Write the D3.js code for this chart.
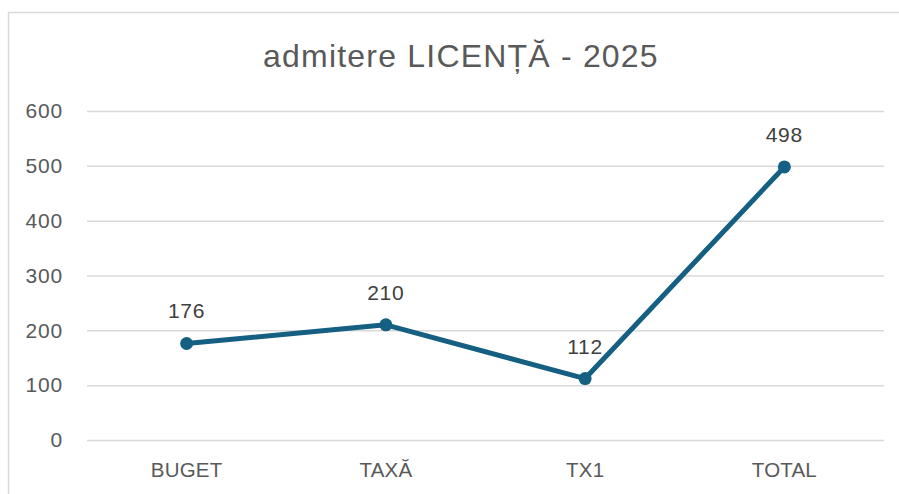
<!DOCTYPE html>
<html>
<head>
<meta charset="utf-8">
<script src="https://cdn.jsdelivr.net/npm/d3@7"></script>
<style>
  body { margin: 0; background: #fff; }
  svg text { font-family: "Liberation Sans", Arial, sans-serif; }
</style>
</head>
<body>
<div id="chart"></div>
<script>
const categories = ['BUGET', 'TAXĂ', 'TX1', 'TOTAL'];
const values = [176, 210, 112, 498];
const yTicks = [0, 100, 200, 300, 400, 500, 600];

const width = 899, height = 494;
const margin = {top: 111, right: 15, bottom: 54, left: 87};
const fontFam = '"Liberation Sans", Arial, sans-serif';

const svg = d3.select('#chart').append('svg')
  .attr('width', width)
  .attr('height', height);

// chart frame, runs off the right and bottom edge
svg.append('rect')
  .attr('x', 8.5).attr('y', 12.5)
  .attr('width', 906).attr('height', 500)
  .attr('fill', '#fff')
  .attr('stroke', '#d9d9d9')
  .attr('stroke-width', 1.5);

svg.append('text')
  .attr('x', 461)
  .attr('y', 67)
  .attr('text-anchor', 'middle')
  .attr('font-size', 32)
  .attr('letter-spacing', 1.2)
  .attr('fill', '#595959')
  .text('admitere LICENȚĂ - 2025');

let x = d3.scaleBand()
  .domain(categories)
  .range([margin.left, width - margin.right]);

let y = d3.scaleLinear()
  .domain([0, 600])
  .range([height - margin.bottom, margin.top]);

let yAxis = g => g
  .attr('transform', `translate(${margin.left},0)`)
  .call(d3.axisLeft(y).tickValues(yTicks).tickSize(-(width - margin.right - margin.left)).tickPadding(24))
  .call(g => g.select('.domain').remove())
  .call(g => g.selectAll('.tick line').attr('stroke', '#d9d9d9').attr('stroke-width', 1.5))
  .call(g => g.selectAll('.tick text')
    .attr('fill', '#595959')
    .attr('font-size', 21)
    .attr('letter-spacing', 0.8)
    .style('font-family', fontFam));

let xAxis = g => g
  .attr('transform', `translate(0,${height - margin.bottom})`)
  .call(d3.axisBottom(x).tickSize(0))
  .call(g => g.select('.domain').remove())
  .call(g => g.selectAll('.tick text')
    .attr('dy', null)
    .attr('y', 37)
    .attr('fill', '#595959')
    .attr('font-size', 20.5)
    .attr('letter-spacing', 0.2)
    .style('font-family', fontFam));

svg.append('g').call(yAxis);
svg.append('g').call(xAxis);

const cx = d => x(d) + x.bandwidth() / 2;
const color = '#156082';

let line = d3.line()
  .x((d, i) => cx(categories[i]))
  .y(d => y(d));

svg.append('path')
  .datum(values)
  .attr('fill', 'none')
  .attr('stroke', color)
  .attr('stroke-width', 5)
  .attr('stroke-linejoin', 'round')
  .attr('d', line);

svg.append('g')
  .selectAll('circle')
  .data(values)
  .join('circle')
  .attr('cx', (d, i) => cx(categories[i]))
  .attr('cy', d => y(d))
  .attr('r', 6.5)
  .attr('fill', color);

svg.append('g')
  .selectAll('text')
  .data(values)
  .join('text')
  .attr('x', (d, i) => cx(categories[i]))
  .attr('y', d => y(d) - 25)
  .attr('text-anchor', 'middle')
  .attr('font-size', 21)
  .attr('letter-spacing', 0.8)
  .attr('fill', '#404040')
  .text(d => d);
</script>
</body>
</html>
